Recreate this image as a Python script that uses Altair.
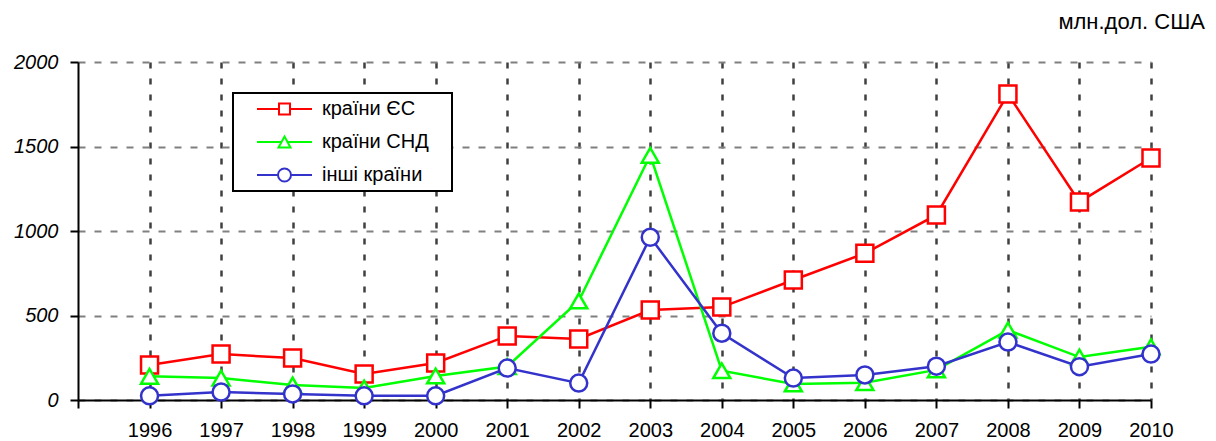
import altair as alt
import pandas as pd

# ---- data ----
years = list(range(1996, 2011))
series_names = ["країни ЄС", "країни СНД", "інші країни"]
eu_values = [207, 272, 248, 154, 219, 379, 361, 532, 550, 710, 868, 1095, 1810, 1172, 1432]
cis_values = [140, 130, 89, 71, 142, 198, 586, 1448, 173, 95, 102, 178, 414, 254, 315]
other_values = [25, 47, 36, 25, 25, 189, 100, 963, 395, 130, 148, 200, 343, 197, 272]
x_ticks = list(range(1995, 2011))
y_ticks = [0, 500, 1000, 1500, 2000]
unit_label = "млн.дол. США"

# ---- styles ----
colors = ["#FF0000", "#00FF00", "#3333CC"]
marker_shapes = ["square", "triangle-up", "circle"]
legend_paths = [
    "M0.8,0H3M4.1,0H6.3M3,-0.55H4.1V0.55H3Z",
    "M0.8,0H3.25M3.85,0H6.3M3.55,-0.55L4.15,0.55L2.95,0.55Z",
    "M0.8,0H2.9M4.2,0H6.3M4.2,0A0.65,0.65,0,1,1,2.9,0A0.65,0.65,0,1,1,4.2,0Z",
]
FONT = "Liberation Sans"

rows = []
for name, vals in zip(series_names, [eu_values, cis_values, other_values]):
    for yr, v in zip(years, vals):
        rows.append({"year": yr, "series": name, "value": v})
df = pd.DataFrame(rows)

x_enc = alt.X(
    "year:Q",
    scale=alt.Scale(domain=[1995, 2010], nice=False, zero=False),
    axis=alt.Axis(
        values=x_ticks, format="d", title=None,
        labelExpr="datum.value == 1995 ? '' : datum.label",
        grid=True, gridDash=[6, 10], gridColor="#404040", gridWidth=2.5,
        gridOpacity={"condition": {"test": "datum.value == 1995", "value": 0}, "value": 1},
        domainColor="black", domainWidth=2, tickColor="black", tickWidth=2, tickSize=8,
        labelFontSize=20, labelFont=FONT, labelColor="black", labelPadding=12,
        labelFlush=False, labelOverlap=False,
    ),
)
y_enc = alt.Y(
    "value:Q",
    scale=alt.Scale(domain=[0, 2000], nice=False),
    axis=alt.Axis(
        values=y_ticks, format="d", title=None,
        grid=True, gridDash=[7, 9], gridColor="#808080", gridWidth=2,
        domainColor="black", domainWidth=2, tickColor="black", tickWidth=2, tickSize=8,
        labelFontSize=20, labelFont=FONT, labelFontStyle="italic", labelColor="black",
        labelPadding=12,
    ),
)

base = alt.Chart(df)
layers = []
for name, col, shp in zip(series_names, colors, marker_shapes):
    sub = base.transform_filter(alt.datum.series == name)
    layers.append(sub.mark_line(color=col, strokeWidth=2.5).encode(x=x_enc, y=y_enc))
    layers.append(
        sub.mark_point(shape=shp, size=289, filled=False, fill="white", stroke=col,
                       strokeWidth=2.5, opacity=1).encode(x=x_enc, y=y_enc)
    )

leg = alt.Legend(
    orient="none", legendX=155, legendY=31,
    title="xx", titleOrient="right", titleOpacity=0, titleFontSize=16, titlePadding=0,
    symbolSize=400, symbolStrokeWidth=2, symbolFillColor="white", symbolOpacity=1,
    labelFontSize=20, labelFont=FONT, labelColor="black", labelOffset=62,
    rowPadding=12, padding=5, strokeColor="black", fillColor="white",
)
legend_layer = base.mark_point(opacity=0, filled=False, fill="white", strokeWidth=2).encode(
    x=x_enc, y=y_enc,
    color=alt.Color("series:N", scale=alt.Scale(domain=series_names, range=colors), legend=leg),
    shape=alt.Shape("series:N", scale=alt.Scale(domain=series_names, range=legend_paths), legend=leg),
)

chart = (
    alt.layer(*layers, legend_layer)
    .properties(
        width=1073, height=338,
        padding={"left": 70, "top": 54, "right": 57, "bottom": 41},
        autosize=alt.AutoSizeParams(type="none"),
        title=alt.Title(unit_label, anchor="end", frame="group", dx=54, offset=1,
                        baseline="alphabetic", fontSize=22, fontWeight="normal",
                        font=FONT, color="black"),
    )
    .configure_view(stroke=None)
    .configure_legend(strokeWidth=2)
)

chart.save("out.html", embed_options={"renderer": "svg", "actions": False})
